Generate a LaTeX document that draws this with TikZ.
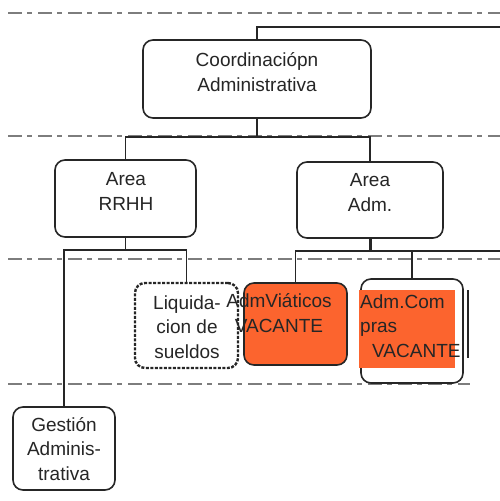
\documentclass[tikz,border=0pt]{standalone}
\usepackage{fontspec}
\setmainfont{Liberation Sans}
\usepackage{xcolor}
\usepackage{tikz}
\usetikzlibrary{positioning}
\definecolor{naranja}{RGB}{252,100,46}
\definecolor{raya}{RGB}{125,125,125}
\tikzset{
  caja/.style={rectangle, rounded corners=10pt, draw=black!85, line width=1.6pt,
    fill=white, inner sep=0pt},
  rotulo/.style={align=center, inner sep=0pt, anchor=base,
    font=\fontsize{19}{24.5}\selectfont, text=black!85},
  linea/.style={draw=black!85, line width=1.4pt},
  nivel/.style={draw=raya, line width=2pt, dash pattern=on 14pt off 5pt on 5pt off 6pt}
}

\begin{document}
\begin{tikzpicture}[x=1pt, y=-1pt]
  \useasboundingbox (0,0) rectangle (500,501);
  \draw[nivel] (8,13) -- (500,13);
  \draw[nivel] (8,136) -- (500,136);
  \draw[nivel] (8,259) -- (500,259);
  \draw[nivel] (8,384) -- (470,384);

  \node[caja, minimum width=228pt, minimum height=78pt] (coord) at (257,79) {};
  \node[rotulo] (coordT) at (257,91) {Coordinaciópn\\Administrativa};

  \node[caja, minimum width=141pt, minimum height=77pt] (rrhh) at (125.5,198.5) {};
  \node[rotulo] (rrhhT) at (126,210) {Area\\RRHH};

  \node[caja, minimum width=146pt, minimum height=76pt] (adm) at (370,200) {};
  \node[rotulo] (admT) at (370,211) {Area\\Adm.};

  \node[caja, dash pattern=on 3pt off 1.5pt, line width=2.4pt,
    minimum width=103pt, minimum height=85pt] (liq) at (186.5,325.5) {};
  \node[rotulo] (liqT) at (187,358) {Liquida-\\cion de\\sueldos};

  \node[caja, fill=naranja, minimum width=103pt, minimum height=82pt] (viat) at (295.5,324) {};
  \node[rotulo] (viatT) at (279,332) {AdmViáticos\\VACANTE};

  \node[caja, minimum width=102pt, minimum height=104pt] (compras) at (412,331) {};
  \node[fill=naranja, inner sep=0pt, minimum width=96pt, minimum height=78pt] (comprasF) at (407,329) {};
  \node[rotulo, align=left, anchor=base west] (comprasT) at (360,357)
    {Adm.Com\\pras\\\hspace*{12pt}VACANTE};
  \draw[linea] (468,290) -- (468,358);

  \node[caja, minimum width=102pt, minimum height=83pt] (gestion) at (64,448.5) {};
  \node[rotulo] (gestionT) at (64,480) {Gestión\\Adminis-\\trativa};

  \coordinate (b0) at (257,27);
  \coordinate (finA) at (500,27);
  \coordinate (b1) at (257,137);
  \coordinate (b2) at (125.5,250);
  \coordinate (b3) at (370,251);
  \coordinate (finB) at (500,251);

  \draw[linea] (coord.north) -- (b0) -- (finA);
  \draw[linea] (coord.south) -- (b1);
  \draw[linea] (rrhh.north) |- (b1) -| (adm.north);
  \draw[linea] (rrhh.south) -- (b2);
  \draw[linea] (gestion.north) |- (b2) -| (liq.north);
  \draw[linea, line width=3pt] (adm.south) -- (b3);
  \draw[linea] (viat.north) |- (b3) -- (finB);
  \draw[linea] (compras.north) -- (compras.north |- b3);
\end{tikzpicture}
\end{document}
